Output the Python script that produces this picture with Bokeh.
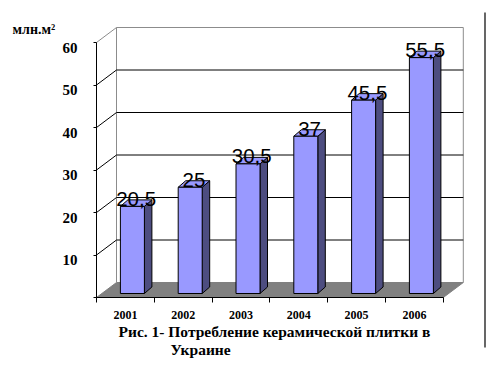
from bokeh.plotting import figure
from bokeh.models import LinearAxis, FixedTicker, Range1d
from bokeh.core.properties import value
from bokeh.embed import file_html
from bokeh.resources import INLINE

# ---- data ----
years = ["2001", "2002", "2003", "2004", "2005", "2006"]
consumption = [20.5, 25, 30.5, 37, 45.5, 55.5]
value_labels = ["20,5", "25", "30,5", "37", "45,5", "55,5"]
y_ticks = [0, 10, 20, 30, 40, 50, 60]
y_tick_labels = ["", "10", "20", "30", "40", "50", "60"]
unit_label = "млн.м²"
caption_1 = "Рис. 1- Потребление керамической плитки в"
caption_2 = "Украине"

# ---- geometry (pixels of the reference page) ----
W, H = 500, 362
PAGE = 0
PX_X = 57.8      # px per category
PX_Y = 4.25      # px per value unit
OX, OY = 96, 297  # page px of (x=0, y=0)

def px_x(px):
    return (px - OX) / PX_X

def px_y(py):
    return (OY - py) / PX_Y

n = len(years)
YMAX = y_ticks[-1]
DX, DY = 20 / PX_X, 15 / PX_Y          # depth of the 3D box
BAR_W = 24 / PX_X
FDX, FDY = 7 / PX_X, 4 / PX_Y          # bar front face offset
SDX, SDY = 7.5 / PX_X, 6.5 / PX_Y      # bar depth

x_start, x_end = px_x(PAGE), px_x(PAGE + W)
y_start, y_end = px_y(PAGE + H), px_y(PAGE)

p = figure(width=W, height=H, x_range=Range1d(x_start, x_end), y_range=Range1d(y_start, y_end),
           x_axis_type=None, y_axis_type=None, output_backend="svg", toolbar_location=None,
           min_border=0, outline_line_color=None, background_fill_color="white")
p.extra_y_ranges = {"lbl": Range1d(y_start + 5 / PX_Y, y_end + 5 / PX_Y)}

# floor
p.patch([0, n, n + DX, DX], [0, 0, DY, DY], fill_color="#808080", line_color="#808080")

# back wall / left wall border
gray = "#8c8c8c"
p.line([DX, DX], [DY, YMAX + DY], line_color=gray, line_width=1)
p.line([0, DX, n + DX, n + DX], [YMAX, YMAX + DY, YMAX + DY, DY], line_color=gray, line_width=1)

# gridlines
gx, gy = [], []
for t in y_ticks[1:-1]:
    gx.append([0, DX, n + DX])
    gy.append([t, t + DY, t + DY])
p.multi_line(gx, gy, line_color="black", line_width=1)

# bars
fx0, fx1, fy0, fy1 = [], [], [], []
side_x, side_y, top_x, top_y = [], [], [], []
lx, ly = [], []
for i, v in enumerate(consumption):
    x0 = i + 0.5 - BAR_W / 2 + FDX
    x1 = x0 + BAR_W
    y0 = FDY
    y1 = FDY + v
    fx0.append(x0); fx1.append(x1); fy0.append(y0); fy1.append(y1)
    side_x.append([x1, x1 + SDX, x1 + SDX, x1])
    side_y.append([y0, y0 + SDY, y1 + SDY, y1])
    top_x.append([x0, x1, x1 + SDX, x0 + SDX])
    top_y.append([y1, y1, y1 + SDY, y1 + SDY])
    lx.append(x0 + (BAR_W + SDX) / 2)
    ly.append(y1 + 7.5 / PX_Y)

p.patches(side_x, side_y, fill_color="#4d4d80", line_color="black", line_width=1)
p.patches(top_x, top_y, fill_color="#9999ff", line_color="black", line_width=1)
p.quad(left=fx0, right=fx1, bottom=fy0, top=fy1, fill_color="#9999ff", line_color="black", line_width=1)

p.text(x=lx, y=ly, text=value_labels, text_font=value("Liberation Sans"), text_font_size=value("20.5px"),
       text_align="center", text_baseline="middle", text_color="black")

# axes
yaxis = LinearAxis(fixed_location=0, bounds=(0, YMAX), ticker=FixedTicker(ticks=y_ticks),
                   major_tick_out=3, major_tick_in=0, major_label_text_color=None,
                   axis_line_color="black", major_tick_line_color="black")
p.add_layout(yaxis, "left")

ylabels = LinearAxis(y_range_name="lbl", fixed_location=0, ticker=FixedTicker(ticks=y_ticks),
                     major_label_overrides={t: s for t, s in zip(y_ticks, y_tick_labels)},
                     axis_line_color=None, major_tick_line_color=None, major_tick_out=0, major_tick_in=0,
                     major_label_standoff=19, major_label_text_font="Liberation Serif",
                     major_label_text_font_style="bold", major_label_text_font_size="15px",
                     major_label_text_color="black")
p.add_layout(ylabels, "left")

centers = [i + 0.5 for i in range(n)]
xaxis = LinearAxis(fixed_location=0, bounds=(0, n),
                   ticker=FixedTicker(ticks=centers, minor_ticks=list(range(n + 1))),
                   major_label_overrides={c: y for c, y in zip(centers, years)},
                   major_tick_out=0, major_tick_in=0, major_tick_line_color=None,
                   minor_tick_out=5, minor_tick_in=0, minor_tick_line_color="black",
                   axis_line_color="black", major_label_standoff=8,
                   major_label_text_font="Liberation Serif", major_label_text_font_style="bold",
                   major_label_text_font_size="12px", major_label_text_color="black")
p.add_layout(xaxis, "below")

# texts
p.text(x=[px_x(12)], y=[px_y(29)], text=[unit_label], text_font=value("Liberation Serif"),
       text_font_style="bold", text_font_size=value("14px"), text_align="left", text_baseline="middle")
p.text(x=[px_x(118), px_x(170)], y=[px_y(330.5), px_y(349)], text=[caption_1, caption_2],
       text_font=value("Liberation Serif"), text_font_style="bold", text_font_size=value("15.5px"),
       text_align="left", text_baseline="middle")

# right border line
p.line([px_x(484.5), px_x(484.5)], [px_y(12), px_y(347)], line_color="black", line_width=1.2)

open("out.html", "w").write(file_html(p, INLINE))
